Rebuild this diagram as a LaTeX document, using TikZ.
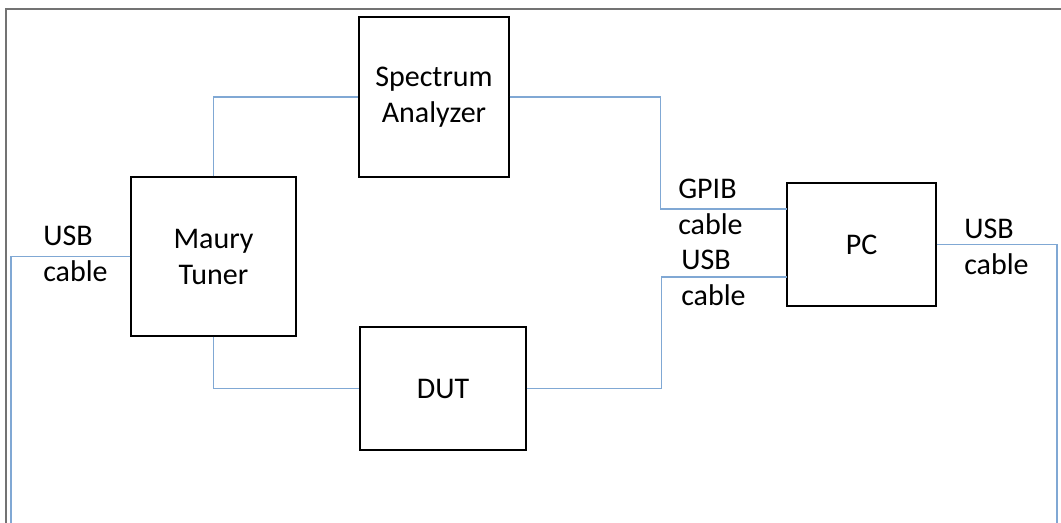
\documentclass[tikz,border=0pt]{standalone}
\usepackage{fontspec}
\setmainfont{Carlito}

\begin{document}
\begin{tikzpicture}[x=0.75pt,y=-0.75pt,
  unit/.style={draw, line width=1pt, inner sep=0pt, align=center},
  cable/.style={draw={rgb,255:red,128;green,168;blue,212}, line width=0.8pt},
  lbl/.style={inner sep=0pt, anchor=north west, align=left},
  every node/.style={font=\fontsize{22.5}{27}\selectfont}]
\useasboundingbox (0,0) rectangle (1061,523);
\draw [line width=0.9pt, gray!90!black] (6,523) -- (6,9) -- (1061,9);
\node [unit, minimum width=112.5pt, minimum height=120pt] (spec) at (434,97) {Spectrum\\Analyzer};
\node [unit, minimum width=123.75pt, minimum height=119.25pt] (maury) at (213.5,256.5) {Maury\\Tuner};
\node [unit, minimum width=124.5pt, minimum height=92.25pt] (dut) at (443,388.5) {DUT};
\node [unit, minimum width=111.75pt, minimum height=92.25pt] (pc) at (861.5,244.5) {PC};
\coordinate (gpib) at (787,209);
\coordinate (usbB) at (787,277);
\coordinate (usbL) at (11,523);
\coordinate (usbR) at (1057,523);
\draw [cable] (maury.north) |- (spec.west);
\draw [cable] (maury.south) |- (dut.west);
\draw [cable] (spec.east) -- ++(151,0) |- (gpib);
\draw [cable] (dut.east) -- ++(135,0) |- (usbB);
\draw [cable] (pc.east) -| (usbR);
\draw [cable] (maury.west) -| (usbL);
\node [lbl] (labL) at (43,226) {USB\\cable};
\node [lbl] (labG) at (678,179) {GPIB\\cable};
\node [lbl] (labU) at (681,250) {USB\\cable};
\node [lbl] (labR) at (964,219) {USB\\cable};
\end{tikzpicture}
\end{document}
